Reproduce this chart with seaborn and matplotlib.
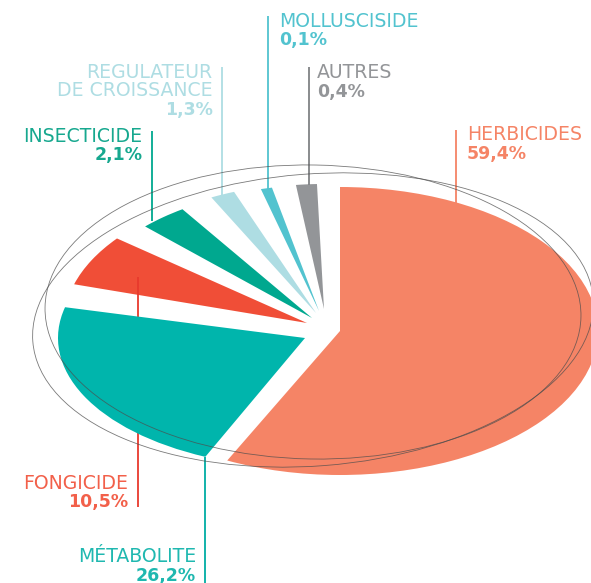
import matplotlib
matplotlib.use("Agg")
import matplotlib.pyplot as plt
from matplotlib.patches import Ellipse
from matplotlib.transforms import Affine2D, IdentityTransform
import seaborn as sns

categories = ["HERBICIDES", "MÉTABOLITE", "FONGICIDE", "INSECTICIDE",
              "REGULATEUR\nDE CROISSANCE", "MOLLUSCISIDE", "AUTRES"]
percent_labels = ["59,4%", "26,2%", "10,5%", "2,1%", "1,3%", "0,1%", "0,4%"]
# angular share of the circle each slice visibly occupies in the drawing (%)
drawn_shares = [57.2, 22.2, 6.1, 3.3, 1.7, 0.8, 1.5]
colors = ["#F58466", "#00B5AC", "#F04E37", "#00A88F", "#AEDDE3", "#52C3CF", "#939598"]
text_colors = ["#F58466", "#1FB8B0", "#F2604A", "#17A88F", "#AEDDE3", "#52C3CF", "#939598"]
line_colors = ["#F58466", "#00ACA4", "#E8392D", "#00A88F", "#AEDDE3", "#52C3CF", "#808285"]

# layout, in image pixels
W, H = 591, 583
SQUASH = 258 / 144
apex = [(340, 331), (305, 338), (307, 323), (312, 318), (316, 313), (319, 311), (324, 309)]
start_angle = [90, 246.2, 163.4, 135.5, 116.8, 104.9, 97.2]
radius = [258, 247, 243, 234, 232, 226, 224]
y_scale = [1, 0.942, 1, 1, 1, 1, 1]
leaders = [(456, 130, 204), (205, 457, 583), (137.5, 277, 507), (151.5, 131, 221),
           (221.5, 67, 197), (268, 16, 189), (308.5, 67, 185)]
text_pos = [(467, 140.5, "left"), (196, 562, "right"), (128.5, 489, "right"), (142.5, 142, "right"),
            (212.5, 78, "right"), (279, 27, "left"), (317, 78, "left")]
LINE_H = 18.5
ring_spec = [(313, 320, 281, 146, 4.4), (313, 312, 268, 147, -1.0)]

sns.set_theme(style="white")
plt.rcParams["font.family"] = ["DejaVu Sans"]
fig = plt.figure(figsize=(W / 100, H / 100), dpi=100)
ax = fig.add_axes([0, 0, 1, 1])
wedges, _ = ax.pie(drawn_shares, colors=sns.color_palette(colors), startangle=90,
                   counterclock=False, frame=True, wedgeprops={"linewidth": 0, "edgecolor": "none"})


def Y(py):
    return (H - py) * SQUASH


ax.set_aspect("auto")
ax.set_xlim(0, W)
ax.set_ylim(0, H * SQUASH)
ax.set_axis_off()

for w, a, s, share, r, k in zip(wedges, apex, start_angle, drawn_shares, radius, y_scale):
    cx, cy = a[0], Y(a[1])
    w.set_center((cx, cy))
    w.set_radius(r)
    w.set_theta2(s)
    w.set_theta1(s - share * 3.6)
    w.set_transform(Affine2D().translate(-cx, -cy).scale(1, k).translate(cx, cy) + ax.transData)
    w.set_zorder(2)
wedges[2].set_zorder(1)

for i, ((x, y0, y1), c) in enumerate(zip(leaders, line_colors)):
    ax.plot([x, x], [Y(y0), Y(y1)], color=c, lw=1.3, solid_capstyle="butt",
            zorder=1.5 if i == 2 else 3)

for cx, cy, rx, ry, ang in ring_spec:
    fig.add_artist(Ellipse((cx, H - cy), 2 * rx, 2 * ry, angle=ang, fill=False, ec="#4d4d4d",
                           lw=0.6, alpha=0.75, zorder=4, transform=IdentityTransform()))

for name, pct, (x, y, ha), c in zip(categories, percent_labels, text_pos, text_colors):
    lines = name.split("\n")
    for k, t in enumerate(lines):
        ax.text(x, Y(y + k * LINE_H), t, color=c, ha=ha, va="baseline", fontsize=13.6)
    ax.text(x, Y(y + len(lines) * LINE_H), pct, color=c, ha=ha, va="baseline",
            fontsize=12.5, fontweight="bold")

fig.savefig("out.png", dpi=100)
